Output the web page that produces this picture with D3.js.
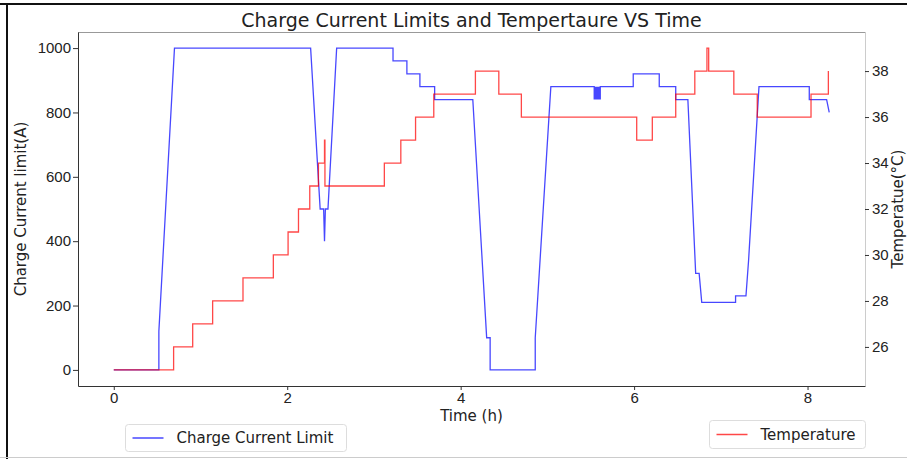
<!DOCTYPE html>
<html>
<head>
<meta charset="utf-8">
<script src="https://cdn.jsdelivr.net/npm/d3@7"></script>
<style>
  body { margin: 0; background: #fff; }
  svg { display: block; font-family: "DejaVu Sans", sans-serif; }
  .axis text { font-size: 15px; fill: #222; }
  .axis path, .axis line { stroke: #333; }
</style>
</head>
<body>
<svg id="chart" width="907" height="459"></svg>
<script>
// charge current limit (A) vs time (h)
var currentTime = [0, 0.52, 0.52, 0.70, 2.27, 2.38, 2.42, 2.43, 2.44, 2.47, 2.57, 3.22, 3.22, 3.38, 3.38, 3.53, 3.53, 3.70, 3.70, 4.14, 4.30, 4.34, 4.34, 4.86, 4.86, 5.04,
  5.54, 5.54, 5.545, 5.55, 5.555, 5.56, 5.565, 5.57, 5.575, 5.58, 5.585, 5.59, 5.595, 5.60, 5.605, 5.61, 5.61,
  5.99, 5.99, 6.29, 6.29, 6.48, 6.48, 6.62, 6.71, 6.75, 6.78, 7.17, 7.17, 7.29, 7.32, 7.44, 8.02, 8.02, 8.22, 8.25];
var currentLimit = [0, 0, 120, 1000, 1000, 500, 500, 400, 500, 500, 1000, 1000, 960, 960, 920, 920, 880, 880, 840, 840, 100, 100, 0, 0, 100, 880,
  880, 840, 880, 840, 880, 840, 880, 840, 880, 840, 880, 840, 880, 840, 880, 840, 880,
  880, 920, 920, 880, 880, 840, 840, 300, 300, 210, 210, 230, 230, 340, 880, 880, 840, 840, 800];

// temperature (°C), value holds from each time until the next
var tempTime = [0, 0.69, 0.91, 1.14, 1.49, 1.84, 2.01, 2.13, 2.26, 2.36, 2.43, 2.435, 3.12, 3.31, 3.48, 3.69, 4.17, 4.44, 4.70, 6.03, 6.21, 6.48, 6.70, 6.84, 6.86, 7.15, 7.42, 8.04, 8.24];
var tempValue = [25, 26, 27, 28, 29, 30, 31, 32, 33, 34, 35, 33, 34, 35, 36, 37, 38, 37, 36, 35, 36, 37, 38, 39, 38, 37, 36, 37, 38];

var xTicks = [0, 2, 4, 6, 8];
var leftTicks = [0, 200, 400, 600, 800, 1000];
var rightTicks = [26, 28, 30, 32, 34, 36, 38];

var margin = {top: 32, right: 42, bottom: 73, left: 78};
var w = 907 - margin.left - margin.right;
var h = 459 - margin.top - margin.bottom;

var svg = d3.select("#chart");

// outer frame of the screenshot
svg.append("line").attr("x1", 0).attr("x2", 907).attr("y1", 4).attr("y2", 4)
  .style("stroke", "#111").style("stroke-width", 2);
svg.append("line").attr("x1", 7).attr("x2", 7).attr("y1", 3).attr("y2", 459)
  .style("stroke", "#111").style("stroke-width", 2);
svg.append("line").attr("x1", 0).attr("x2", 907).attr("y1", 457.5).attr("y2", 457.5)
  .style("stroke", "#ccc").style("stroke-width", 1);

var chart = svg.append("g")
  .attr("transform", "translate(" + margin.left + "," + margin.top + ")");

var x = d3.scaleLinear().domain([-0.4125, 8.6625]).range([0, w]);
var yLeft = d3.scaleLinear().domain([-50, 1050]).range([h, 0]);
var yRight = d3.scaleLinear().domain([24.3, 39.7]).range([h, 0]);

// plot box
chart.append("line").attr("x1", 0).attr("x2", w).attr("y1", 0.5).attr("y2", 0.5).style("stroke", "#999");
chart.append("line").attr("x1", w + 0.5).attr("x2", w + 0.5).attr("y1", 0).attr("y2", h).style("stroke", "#ccc");

chart.append("g")
  .attr("class", "axis")
  .attr("transform", "translate(0," + h + ")")
  .call(d3.axisBottom(x).tickValues(xTicks).tickFormat(d3.format("d")).tickSize(4).tickPadding(2).tickSizeOuter(0));

chart.append("g")
  .attr("class", "axis")
  .call(d3.axisLeft(yLeft).tickValues(leftTicks).tickFormat(d3.format("d")).tickSize(5).tickPadding(2).tickSizeOuter(0));

chart.append("g")
  .attr("class", "axis right")
  .attr("transform", "translate(" + w + ",0)")
  .call(d3.axisRight(yRight).tickValues(rightTicks).tickSize(4).tickPadding(3).tickSizeOuter(0));
chart.select(".axis.right path").style("stroke", "none");

// series
var currentLine = d3.line()
  .x(function(d, i) { return x(currentTime[i]); })
  .y(function(d) { return yLeft(d); });

var tempLine = d3.line()
  .curve(d3.curveStepAfter)
  .x(function(d, i) { return x(tempTime[i]); })
  .y(function(d) { return yRight(d); });

chart.append("path")
  .datum(currentLimit)
  .attr("d", currentLine)
  .style("fill", "none")
  .style("stroke", "blue")
  .style("stroke-opacity", 0.72)
  .style("stroke-width", 1.3);

chart.append("path")
  .datum(tempValue)
  .attr("d", tempLine)
  .style("fill", "none")
  .style("stroke", "red")
  .style("stroke-opacity", 0.72)
  .style("stroke-width", 1.3);

// titles
svg.append("text")
  .attr("x", margin.left + w / 2)
  .attr("y", 27)
  .style("text-anchor", "middle")
  .style("font-size", "19px")
  .style("fill", "#222")
  .text("Charge Current Limits and Tempertaure VS Time");

svg.append("text")
  .attr("x", margin.left + w / 2)
  .attr("y", 421)
  .style("text-anchor", "middle")
  .style("font-size", "15px")
  .style("fill", "#222")
  .text("Time (h)");

svg.append("text")
  .attr("transform", "translate(26," + (margin.top + h / 2) + ") rotate(-90)")
  .style("text-anchor", "middle")
  .style("font-size", "15px")
  .style("fill", "#222")
  .text("Charge Current limit(A)");

svg.append("text")
  .attr("transform", "translate(903," + (margin.top + h / 2) + ") rotate(-90)")
  .style("text-anchor", "middle")
  .style("font-size", "15px")
  .style("fill", "#222")
  .text("Temperatue(°C)");

// legends
function legend(x0, y0, bw, bh, color, label) {
  var g = svg.append("g").attr("transform", "translate(" + x0 + "," + y0 + ")");
  g.append("rect").attr("width", bw).attr("height", bh).attr("rx", 3)
    .style("fill", "#fff").style("stroke", "#ddd");
  g.append("line").attr("x1", 7).attr("x2", 38).attr("y1", bh / 2).attr("y2", bh / 2)
    .style("stroke", color).style("stroke-opacity", 0.72).style("stroke-width", 1.5);
  g.append("text").attr("x", 51).attr("y", bh / 2 + 5)
    .style("font-size", "15px").style("fill", "#222").text(label);
}
legend(125.5, 424.5, 221, 27, "blue", "Charge Current Limit");
legend(709.5, 420.5, 156, 28, "red", "Temperature");
</script>
</body>
</html>
